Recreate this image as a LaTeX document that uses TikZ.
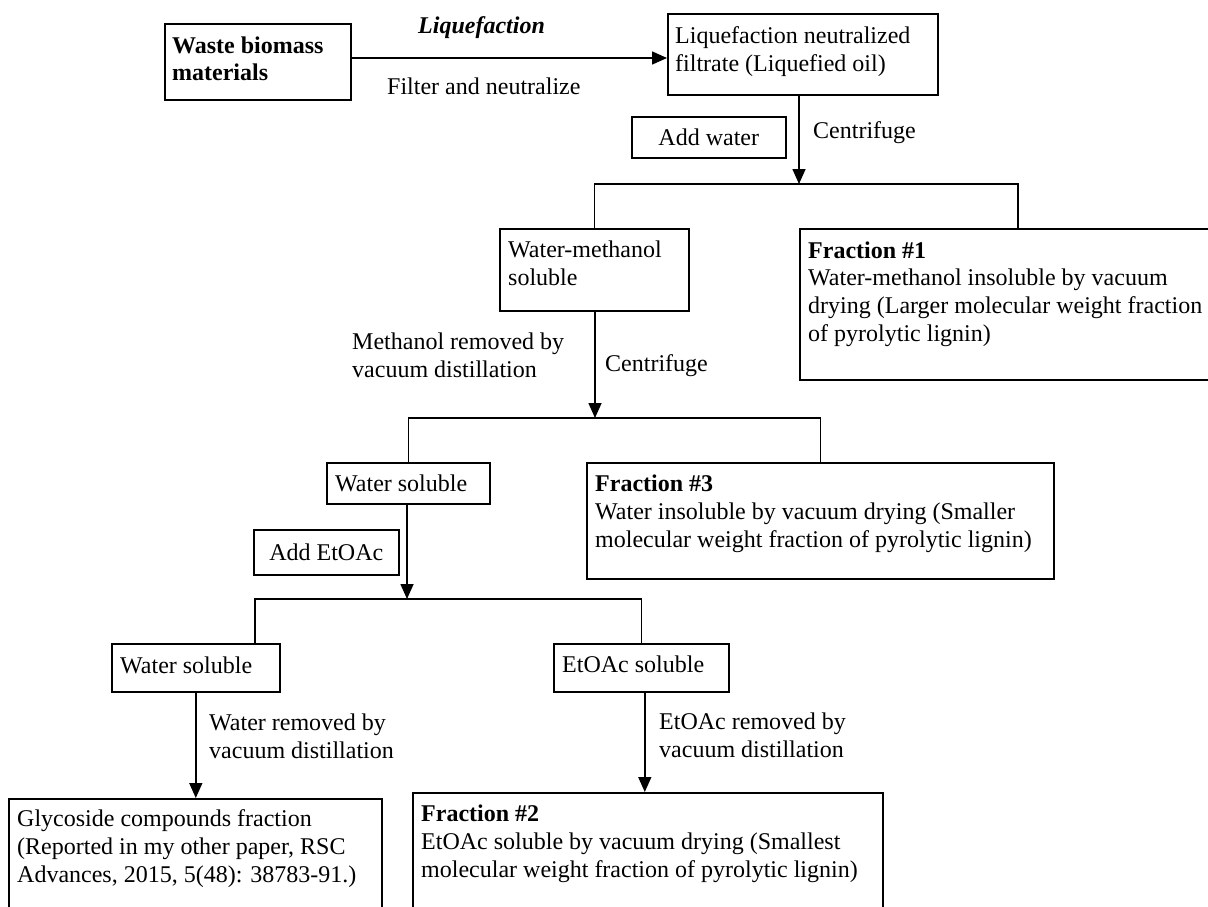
\documentclass[tikz,border=0pt]{standalone}
\usepackage{fontspec}
\setmainfont{Liberation Serif}
\usetikzlibrary{arrows.meta,calc}
\begin{document}
\begin{tikzpicture}[x=1pt,y=-1pt,
  every node/.style={font=\fontsize{24}{27.6}\selectfont},
  box/.style={draw, line width=1.6pt, inner sep=0, anchor=north west},
  txt/.style={anchor=base west, inner sep=0, align=left},
  bftxt/.style={txt, font=\fontsize{24}{27.6}\selectfont\bfseries},
  ln/.style={line width=1.6pt},
  arr/.style={line width=1.6pt, -{Triangle[length=15pt,width=13pt]}}]
\clip (0,0) rectangle (1208,907);
% boxes
\node[box, minimum width=186pt, minimum height=76pt] (waste) at (164,23) {};
\node[box, minimum width=270pt, minimum height=81pt] (liq) at (667,13) {};
\node[box, minimum width=154pt, minimum height=41pt] (addw) at (631,116) {Add water};
\node[box, minimum width=189pt, minimum height=82pt] (wm) at (499,228) {};
\node[box, minimum width=430pt, minimum height=151pt] (frac1) at (799,228) {};
\node[box, minimum width=163pt, minimum height=41pt] (ws1) at (326,462) {};
\node[box, minimum width=145pt, minimum height=45pt] (adde) at (253,529) {Add EtOAc};
\node[box, minimum width=467pt, minimum height=116pt] (frac3) at (586,462) {};
\node[box, minimum width=168pt, minimum height=48pt] (ws2) at (111,643) {};
\node[box, minimum width=175pt, minimum height=48pt] (etoac) at (553,643) {};
\node[box, minimum width=373pt, minimum height=130pt] (glyc) at (8,798) {};
\node[box, minimum width=470pt, minimum height=140pt] (frac2) at (412,792) {};
% box texts (anchor = baseline of last line)
\node[bftxt] (waste-t) at (172,81) {Waste biomass\\materials};
\node[txt] (liq-t) at (675,71) {Liquefaction neutralized\\filtrate (Liquefied oil)};
\node[txt] (wm-t) at (508,285) {Water-methanol\\soluble};
\node[txt] (frac1-t) at (808,341) {\textbf{Fraction \#1}\\Water-methanol insoluble by vacuum\\drying (Larger molecular weight fraction\\of pyrolytic lignin)};
\node[txt] (ws1-t) at (335,491) {Water soluble};
\node[txt] (frac3-t) at (595,547) {\textbf{Fraction \#3}\\Water insoluble by vacuum drying (Smaller\\molecular weight fraction of pyrolytic lignin)};
\node[txt] (ws2-t) at (120,673) {Water soluble};
\node[txt] (etoac-t) at (562,672) {EtOAc soluble};
\node[txt] (glyc-t) at (17,882) {Glycoside compounds fraction\\(Reported in my other paper, RSC\\Advances, 2015, 5(48): 38783-91.)};
\node[txt] (frac2-t) at (421,877) {\textbf{Fraction \#2}\\EtOAc soluble by vacuum drying (Smallest\\molecular weight fraction of pyrolytic lignin)};
% connector labels
\node[txt, font=\fontsize{24}{27.6}\selectfont\bfseries\itshape] (lq-l) at (418,34) {Liquefaction};
\node[txt] (filt-l) at (387,95) {Filter and neutralize};
\node[txt] (cen1-l) at (813,138) {Centrifuge};
\node[txt] (meth-l) at (352,377) {Methanol removed by\\vacuum distillation};
\node[txt] (cen2-l) at (605,371) {Centrifuge};
\node[txt] (wrem-l) at (209,758) {Water removed by\\vacuum distillation};
\node[txt] (erem-l) at (659,757) {EtOAc removed by\\vacuum distillation};
% connectors
\draw[arr] (waste.east |- 0,58) -- (liq.west |- 0,58);
\coordinate (s1) at (799,184);
\draw[arr] (liq.south -| s1) -- (s1);
\draw[ln] (wm.north) |- (s1) -| ($(frac1.north west)+(219,0)$);
\coordinate (s2) at (595,418);
\draw[arr] (wm.south -| s2) -- (s2);
\draw[ln] (ws1.north) |- (s2) -| (frac3.north);
\coordinate (s3) at (407,599);
\draw[arr] (ws1.south -| s3) -- (s3);
\draw[ln] ($(ws2.north west)+(144,0)$) |- (s3) -| (etoac.north);
\draw[arr] (ws2.south) -- (ws2.south |- glyc.north);
\coordinate (e4) at ($(etoac.south)+(3.5,0)$);
\draw[arr] (e4) -- (e4 |- frac2.north);
\end{tikzpicture}
\end{document}
